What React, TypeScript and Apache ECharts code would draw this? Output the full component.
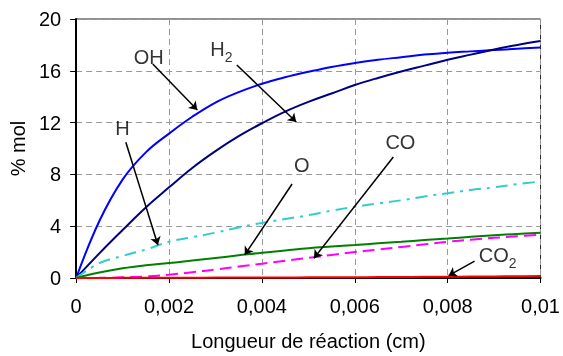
import React, { useEffect, useRef } from "react";
import * as echarts from "echarts";

const xValues = [0, 0.0005, 0.001, 0.0015, 0.002, 0.0025, 0.003, 0.0035, 0.004, 0.0045, 0.005, 0.0055, 0.006, 0.0065, 0.007, 0.0075, 0.008, 0.0085, 0.009, 0.0095, 0.01];
const ohValues = [0, 4.4, 7.6, 9.7, 11.15, 12.45, 13.55, 14.35, 15.0, 15.5, 15.92, 16.3, 16.6, 16.85, 17.05, 17.25, 17.4, 17.5, 17.6, 17.7, 17.8];
const h2Values = [0, 1.9, 3.7, 5.45, 7.0, 8.5, 9.8, 10.95, 11.95, 12.85, 13.6, 14.25, 14.9, 15.45, 15.95, 16.4, 16.85, 17.25, 17.65, 18.0, 18.3];
const hValues = [0, 1.15, 1.7, 2.2, 2.8, 3.15, 3.5, 3.9, 4.25, 4.55, 4.85, 5.2, 5.5, 5.75, 6.0, 6.3, 6.55, 6.8, 7.0, 7.25, 7.45];
const oValues = [0, 0.42, 0.75, 0.98, 1.15, 1.35, 1.55, 1.75, 1.95, 2.12, 2.3, 2.43, 2.55, 2.68, 2.8, 2.93, 3.05, 3.18, 3.3, 3.4, 3.5];
const coValues = [0, 0.01, 0.05, 0.12, 0.25, 0.45, 0.65, 0.88, 1.1, 1.33, 1.55, 1.78, 2.0, 2.2, 2.4, 2.6, 2.8, 2.95, 3.1, 3.23, 3.35];
const co2Values = [0, 0, 0.01, 0.01, 0.02, 0.02, 0.03, 0.03, 0.04, 0.045, 0.05, 0.055, 0.06, 0.07, 0.08, 0.09, 0.1, 0.11, 0.12, 0.135, 0.15];

// annotation labels: [x, y, text]
const labelPoints: [number, number, string][] = [
  [0.00124, 17.84, "OH"],
  [0.00289, 18.45, "H{s|2}"],
  [0.00084, 12.36, "H"],
  [0.00469, 9.5, "O"],
  [0.00666, 11.31, "CO"],
  [0.00867, 2.55, "CO{s|2}"],
];

// arrows: [x1, y1, x2, y2]
const arrows: [number, number, number, number][] = [
  [0.00165, 16.52, 0.00261, 12.97],
  [0.00346, 16.45, 0.00474, 12.05],
  [0.00107, 10.48, 0.00176, 2.55],
  [0.00465, 7.26, 0.00363, 1.78],
  [0.00683, 9.34, 0.00512, 1.52],
  [0.00858, 1.31, 0.00802, 0.18],
];

const FONT = "'Liberation Sans', Arial, sans-serif";

function pairs(vals: number[]) {
  return xValues.map((x, i) => [x, vals[i]]);
}

export default function App() {
  const ref = useRef<HTMLDivElement>(null);
  useEffect(() => {
    if (!ref.current) return;
    const chart = echarts.init(ref.current, null, { renderer: "svg" });
    const lineSeries = (name: string, vals: number[], color: string, type: any) => ({
      name,
      type: "line",
      data: pairs(vals),
      smooth: 0.4,
      showSymbol: false,
      symbol: "none",
      lineStyle: { color, width: 2, type },
      silent: true,
      z: 3,
    });
    chart.setOption({
      animation: false,
      grid: { left: 76, right: 20, top: 19, bottom: 78, show: true, borderColor: "#222", borderWidth: 1 },
      xAxis: {
        type: "value",
        min: 0,
        max: 0.01,
        interval: 0.002,
        name: "Longueur de réaction (cm)",
        nameLocation: "middle",
        nameGap: 53,
        nameTextStyle: { fontFamily: FONT, fontSize: 20, color: "#000" },
        axisLine: { show: true, lineStyle: { color: "#000", width: 2 } },
        axisTick: { show: true, length: 5, lineStyle: { color: "#000", width: 1 } },
        axisLabel: {
          margin: 18,
          fontFamily: FONT,
          fontSize: 20,
          color: "#000",
          formatter: (v: number) => parseFloat(v.toFixed(4)).toString().replace(".", ","),
        },
        splitLine: { show: true, lineStyle: { color: "#999", type: [6, 4], width: 1 } },
      },
      yAxis: {
        type: "value",
        min: 0,
        max: 20,
        interval: 4,
        name: "% mol",
        nameLocation: "middle",
        nameGap: 42,
        nameTextStyle: { fontFamily: FONT, fontSize: 20, color: "#000" },
        axisLine: { show: true, lineStyle: { color: "#000", width: 2 } },
        axisTick: { show: true, length: 6, lineStyle: { color: "#000", width: 1 } },
        axisLabel: { margin: 15, fontFamily: FONT, fontSize: 20, color: "#000" },
        splitLine: { show: true, lineStyle: { color: "#999", type: [6, 4], width: 1 } },
      },
      series: [
        lineSeries("OH", ohValues, "#0000FF", "solid"),
        lineSeries("H2", h2Values, "#000080", "solid"),
        lineSeries("H", hValues, "#33CCCC", [12, 6, 3, 6]),
        lineSeries("O", oValues, "#008000", "solid"),
        lineSeries("CO", coValues, "#FF00FF", [12, 6]),
        {
          ...lineSeries("CO2", co2Values, "#FF0000", "solid"),
          markLine: {
            silent: true,
            symbol: ["none", "arrow"],
            symbolSize: 8,
            label: { show: false },
            lineStyle: { color: "#000", width: 1.5, type: "solid" },
            emphasis: { disabled: true },
            data: arrows.map((a) => [{ coord: [a[0], a[1]] }, { coord: [a[2], a[3]] }]),
          },
        },
        {
          name: "labels",
          type: "scatter",
          symbolSize: 0,
          silent: true,
          data: labelPoints.map((p) => ({ value: [p[0], p[1]], name: p[2] })),
          label: {
            show: true,
            position: [0, 0],
            align: "left",
            verticalAlign: "top",
            formatter: (p: any) => p.name.replace(/^([A-Z]+)/, "{m|$1}"),
            rich: {
              m: { fontFamily: FONT, fontSize: 20, color: "#000", lineHeight: 22, verticalAlign: "top" },
              s: { fontFamily: FONT, fontSize: 14, color: "#000", lineHeight: 25, verticalAlign: "bottom" },
            },
          },
          z: 5,
        },
      ],
    });
    return () => chart.dispose();
  }, []);
  return <div ref={ref} style={{ position: "fixed", left: 0, top: 0, width: 563, height: 356 }} />;
}
